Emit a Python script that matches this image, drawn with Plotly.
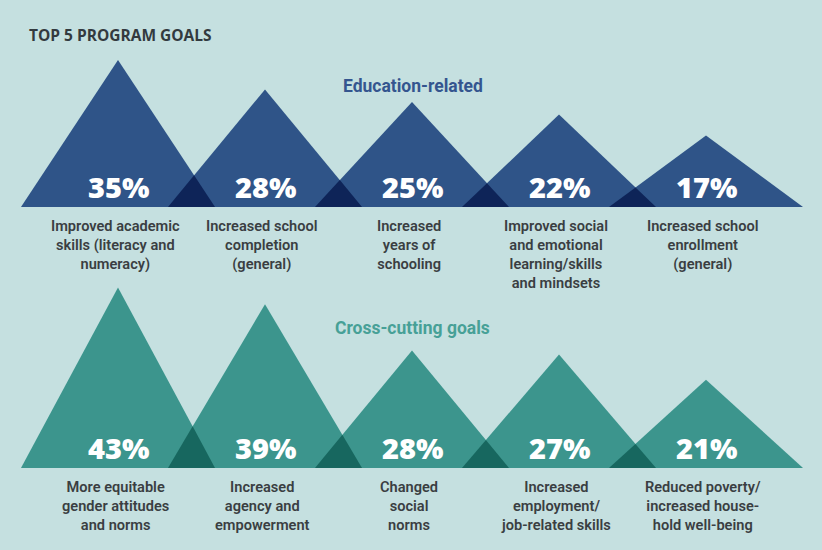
import plotly.graph_objects as go

# ---------------- data ----------------
edu_values = [35, 28, 25, 22, 17]
edu_labels = [
    "Improved academic<br>skills (literacy and<br>numeracy)",
    "Increased school<br>completion<br>(general)",
    "Increased<br>years of<br>schooling",
    "Improved social<br>and emotional<br>learning/skills<br>and mindsets",
    "Increased school<br>enrollment<br>(general)",
]
cross_values = [43, 39, 28, 27, 21]
cross_labels = [
    "More equitable<br>gender attitudes<br>and norms",
    "Increased<br>agency and<br>empowerment",
    "Changed<br>social<br>norms",
    "Increased<br>employment/<br>job-related skills",
    "Reduced poverty/<br>increased house-<br>hold well-being",
]
title_text = "TOP 5 PROGRAM GOALS"
edu_title = "Education-related"
cross_title = "Cross-cutting goals"

# ---------------- style ----------------
W, H = 822, 550
BG = "#c5e0e0"
BLUE, NAVY = "#2f5488", "#0e2458"
TEAL, DTEAL = "#3c958d", "#17675f"
TEXT = "#3a3e42"
HALF = 0.66          # half base width in slot units
PX_PER_SLOT = 147
PX_PER_PCT = 4.2
X0_PX = 118          # pixel of slot 0 centre
TOP_BASE_PX = 207    # from top
BOT_BASE_PX = 468

fig = go.Figure()


def add_row(values, fill, dark, yref):
    n = len(values)
    for i, v in enumerate(values):
        fig.add_trace(go.Scatter(
            x=[i - HALF, i, i + HALF, i - HALF], y=[0, v, 0, 0],
            mode="lines", fill="toself", fillcolor=fill,
            line=dict(width=0, color=fill), hoverinfo="skip",
            showlegend=False, yaxis=yref))
    for i in range(n - 1):
        a, b = values[i], values[i + 1]
        # right edge of i meets left edge of i+1
        xi = (a * (i + HALF) + b * (i + 1 - HALF)) / (a + b)
        yi = a * (i + HALF - xi) / HALF
        fig.add_trace(go.Scatter(
            x=[i + 1 - HALF, xi, i + HALF, i + 1 - HALF], y=[0, yi, 0, 0],
            mode="lines", fill="toself", fillcolor=dark,
            line=dict(width=0, color=dark), hoverinfo="skip",
            showlegend=False, yaxis=yref))


add_row(edu_values, BLUE, NAVY, "y")
add_row(cross_values, TEAL, DTEAL, "y2")

ann = []
for yr, vals, labs in (("y", edu_values, edu_labels), ("y2", cross_values, cross_labels)):
    for i, (v, lab) in enumerate(zip(vals, labs)):
        ann.append(dict(x=i, y=0, xref="x", yref=yr, text=f"{v}%", showarrow=False,
                        xanchor="center", yanchor="middle", yshift=21,
                        font=dict(family="Open Sans", size=29, color="white", weight=800)))
        ann.append(dict(x=i, y=0, xref="x", yref=yr, text=lab, showarrow=False,
                        xanchor="center", yanchor="top", yshift=-8, xshift=-3,
                        align="center",
                        font=dict(family="Roboto", size=14.6, color=TEXT, weight=600)))

ann.append(dict(x=27 / W, y=1 - 35 / H, xref="paper", yref="paper", text=title_text,
                showarrow=False, xanchor="left", yanchor="middle",
                font=dict(family="Open Sans", size=15.5, color="#333a3f", weight=700)))
ann.append(dict(x=413 / W, y=1 - 86 / H, xref="paper", yref="paper", text=edu_title,
                showarrow=False, xanchor="center", yanchor="middle",
                font=dict(family="Roboto", size=17.5, color="#34558f", weight=700)))
ann.append(dict(x=412 / W, y=1 - 328 / H, xref="paper", yref="paper", text=cross_title,
                showarrow=False, xanchor="center", yanchor="middle",
                font=dict(family="Roboto", size=17.5, color="#47a097", weight=700)))

xr = [-X0_PX / PX_PER_SLOT, (W - X0_PX) / PX_PER_SLOT]
top_from_bottom = H - TOP_BASE_PX
bot_from_bottom = H - BOT_BASE_PX
yr1 = [-top_from_bottom / PX_PER_PCT, TOP_BASE_PX / PX_PER_PCT]
yr2 = [-bot_from_bottom / PX_PER_PCT, BOT_BASE_PX / PX_PER_PCT]

axis_off = dict(visible=False, showgrid=False, zeroline=False, fixedrange=True)
fig.update_layout(
    width=W, height=H, margin=dict(l=0, r=0, t=0, b=0),
    paper_bgcolor=BG, plot_bgcolor=BG,
    xaxis=dict(range=xr, **axis_off),
    yaxis=dict(range=yr1, **axis_off),
    yaxis2=dict(range=yr2, overlaying="y", **axis_off),
    annotations=ann, showlegend=False,
)

fig.write_html(
    "out.html",
    config={"displayModeBar": False},
    post_script=f"document.body.style.margin='0';document.body.style.background='{BG}';",
)
